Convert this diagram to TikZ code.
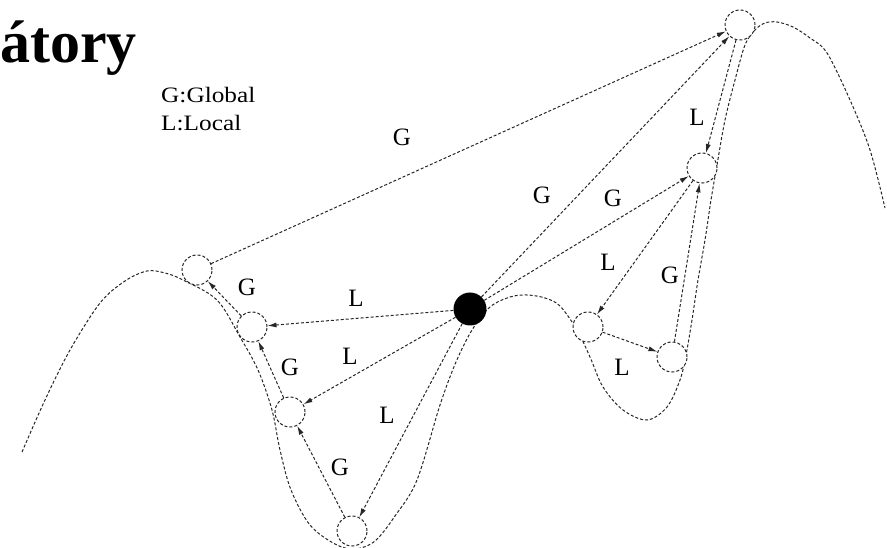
\documentclass[tikz,border=0pt]{standalone}
\usepackage{fontspec}
\setmainfont{Liberation Serif}
\usetikzlibrary{arrows.meta}
\begin{document}
\begin{tikzpicture}[x=1pt,y=-1pt,
  dl/.style={line width=1pt, dash pattern=on 3pt off 2pt, black!85},
  st/.style={circle, draw, dl, fill=white, minimum size=30pt, inner sep=0pt},
  cur/.style={circle, fill=black, minimum size=33pt, inner sep=0pt},
  arr/.style={dl, -{Latex[length=9pt,width=5pt]}},
  lab/.style={font=\fontsize{25}{28}\selectfont, inner sep=0pt},
  leg/.style={font=\fontsize{22}{25}\selectfont, anchor=west, inner sep=0pt, xscale=1.15}]
\useasboundingbox (0,0) rectangle (887,548);
% landscape
\draw[dl] plot[smooth, tension=0.55] coordinates {
 (22,452) (45,400) (70,350) (100,303) (125,281) (147,271) (165,273) (183,280)
 (217,300) (240,337) (258,370) (272,410) (280,450) (291,490) (310,525) (335,544)
 (355,549) (375,541) (395,516) (417,480) (440,405) (456,362) (472,330) (490,307)
 (510,297) (527,295) (545,298) (560,306) (577,330) (590,357) (603,387) (623,410)
 (647,420) (667,407) (680,380) (686,355) (692,320) (698,280) (705,240) (711,200)
 (717,165) (725,120) (735,80) (745,45) (755,30) (765,23) (777,22) (793,27)
 (810,38) (827,53) (850,100) (870,150) (885,208)};
% states
\node[st] (A) at (197,270) {};
\node[st] (B) at (252,327) {};
\node[st] (C) at (290,412) {};
\node[st] (D) at (352,531) {};
\node[cur] (S) at (470,309) {};
\node[st] (E) at (588,327) {};
\node[st] (F) at (672,357) {};
\node[st] (H) at (702,168) {};
\node[st] (T) at (740,25) {};
% moves
\draw[arr] (B) -- (A);
\draw[arr] (C) -- (B);
\draw[arr] (D) -- (C);
\draw[arr] (S) -- (B);
\draw[arr] (S) -- (C);
\draw[arr] (S) -- (D);
\draw[arr] (A) -- (T);
\draw[arr] (S) -- (T);
\draw[arr] (S) -- (H);
\draw[arr] (T) -- (H);
\draw[arr] (H) -- (E);
\draw[arr] (E) -- (F);
\draw[arr] (F) -- (H);
% labels
\node[lab] (l1) at (402,137) {G};
\node[lab] (l2) at (542,195) {G};
\node[lab] (l3) at (613,198) {G};
\node[lab] (l4) at (697,117) {L};
\node[lab] (l5) at (608,262) {L};
\node[lab] (l6) at (670,275) {G};
\node[lab] (l7) at (622,367) {L};
\node[lab] (l8) at (247,287) {G};
\node[lab] (l9) at (356,298) {L};
\node[lab] (l10) at (350,356) {L};
\node[lab] (l11) at (290,367) {G};
\node[lab] (l12) at (387,415) {L};
\node[lab] (l13) at (340,467) {G};
% legend and title
\node[leg] (g) at (161,95) {G:Global};
\node[leg] (l) at (161,123) {L:Local};
\node[anchor=base west, inner sep=0pt, font=\fontsize{60}{62}\selectfont\bfseries] (title) at (0,63) {átory};
\end{tikzpicture}
\end{document}
